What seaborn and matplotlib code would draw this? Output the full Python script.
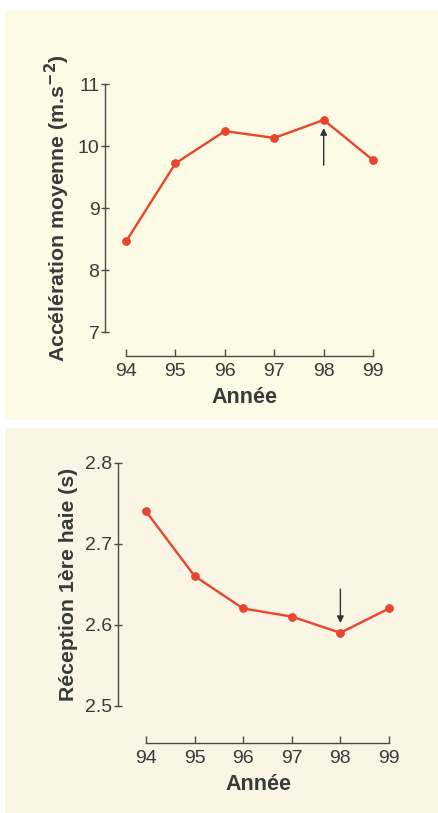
import matplotlib
matplotlib.use("Agg")
import matplotlib.pyplot as plt
import seaborn as sns
import pandas as pd
from matplotlib.patches import Rectangle

annees = [94, 95, 96, 97, 98, 99]
acceleration = [8.46, 9.72, 10.24, 10.13, 10.42, 9.77]
reception = [2.74, 2.66, 2.62, 2.61, 2.59, 2.62]
acc_ticks = [7, 8, 9, 10, 11]
rec_ticks = [2.5, 2.6, 2.7, 2.8]
rec_tick_labels = ["2.5", "2.6", "2.7", "2.8"]

sns.set_style("white")
plt.rcParams['font.family'] = ['Liberation Sans', 'DejaVu Sans']

RED = "#e8452c"
TXT = "#3a3a3a"
SPINE = "#4a4a4a"

fig = plt.figure(figsize=(4.38, 8.13), dpi=100)
fig.patch.set_facecolor("white")
fig.patches.append(Rectangle((5/438, 1-420/813), 1, 410/813, transform=fig.transFigure,
                             facecolor="#fdfae6", edgecolor="none", zorder=-10))
fig.patches.append(Rectangle((5/438, 0), 1, 1-428/813, transform=fig.transFigure,
                             facecolor="#faf5e4", edgecolor="none", zorder=-10))

df = pd.DataFrame({"Année": annees, "acc": acceleration, "rec": reception})

ax1 = fig.add_axes([105/438, 1-332/813, 278/438, 248/813])
ax2 = fig.add_axes([118/438, 1-705.7/813, 280.7/438, 243/813])

for ax, col, ylim, yticks, ylabels, xoff, ylab, lpad in [
    (ax1, "acc", (7, 11), acc_ticks, [str(t) for t in acc_ticks], 17.3,
     "Accélération moyenne (m.s$^{\\mathbf{-2}}$)", 4),
    (ax2, "rec", (2.5, 2.8), rec_ticks, rec_tick_labels, 26.6,
     "Réception 1ère haie (s)", 5),
]:
    ax.set_facecolor("none")
    sns.lineplot(data=df, x="Année", y=col, ax=ax, color=RED, linewidth=1.7,
                 marker="o", markersize=5.5, markeredgecolor=RED)
    ax.set_ylim(*ylim)
    ax.set_yticks(yticks)
    ax.set_yticklabels(ylabels)
    ax.set_xticks(annees)
    ax.set_xticklabels([str(a) for a in annees])
    for s in ["top", "right"]:
        ax.spines[s].set_visible(False)
    ax.spines["left"].set_bounds(ylim[0], ylim[1])
    ax.spines["bottom"].set_bounds(94, 99)
    ax.spines["bottom"].set_position(("outward", xoff))
    for s in ["left", "bottom"]:
        ax.spines[s].set_color(SPINE)
        ax.spines[s].set_linewidth(1.0)
    ax.tick_params(axis="x", bottom=True, direction="in", length=5, width=1, color=SPINE,
                   labelsize=14, labelcolor=TXT, pad=5)
    ax.tick_params(axis="y", left=True, direction="inout", length=6, width=1, color=SPINE,
                   labelsize=14, labelcolor=TXT, pad=1)
    ax.set_xlabel("Année", fontsize=15.5, fontweight="bold", color=TXT, labelpad=5)
    ax.set_ylabel(ylab, fontsize=15.3, fontweight="bold", color=TXT, labelpad=lpad)

ax1.set_xlim(93.575, 99.2)
ax2.set_xlim(93.424, 99.2)

ax1.annotate("", xy=(98, 10.29), xytext=(98, 9.69),
             arrowprops=dict(arrowstyle="-|>", color="#333333", lw=1.0,
                             mutation_scale=10, shrinkA=0, shrinkB=0))
ax2.annotate("", xy=(98, 2.602), xytext=(98, 2.644),
             arrowprops=dict(arrowstyle="-|>", color="#333333", lw=1.0,
                             mutation_scale=10, shrinkA=0, shrinkB=0))

fig.savefig("out.png", dpi=100)
